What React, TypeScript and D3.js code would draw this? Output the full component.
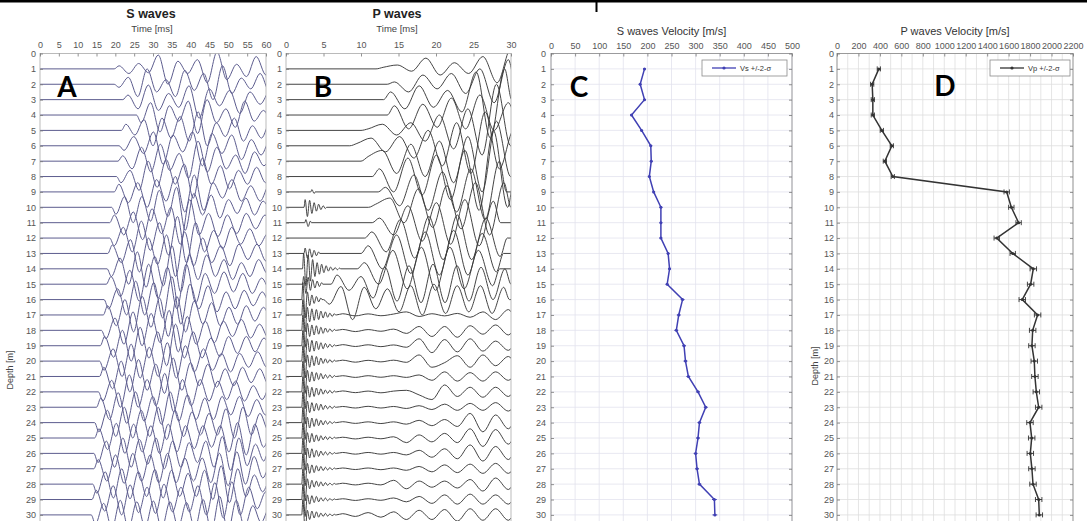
import React, { useEffect, useRef } from 'react';
import * as d3 from 'd3';

// depth levels (m) and axis ticks
const depths = [1,2,3,4,5,6,7,8,9,10,11,12,13,14,15,16,17,18,19,20,21,22,23,24,25,26,27,28,29,30];
const depthTicks = [0,1,2,3,4,5,6,7,8,9,10,11,12,13,14,15,16,17,18,19,20,21,22,23,24,25,26,27,28,29,30];
const gridDepths = [0,1,2,3,4,5,6,7,8,9,10,11,12,13,14,15,16,17,18,19,20,21,22,23,24,25,26,27,28,29,30,31];
const sTimeTicks = [0,5,10,15,20,25,30,35,40,45,50,55,60];
const pTimeTicks = [0,5,10,15,20,25,30];
const vsTicks = [0,50,100,150,200,250,300,350,400,450,500];
const vpTicks = [0,200,400,600,800,1000,1200,1400,1600,1800,2000,2200];

const vsValues = [194,185,194,167,188,207,208,204,213,228,228,228,243,246,241,273,265,260,276,279,285,305,321,308,305,300,303,308,339,340];
const vsSigma = [3,3,3,3,3,3,3,3,3,3,3,3,3,3,3,4,4,4,4,4,4,4,4,4,4,4,4,4,5,5];
const vpValues = [390,328,334,334,418,511,446,520,1582,1625,1693,1489,1638,1830,1805,1727,1870,1824,1817,1839,1845,1858,1880,1799,1815,1802,1817,1827,1880,1886];
const vpSigma = [15,15,15,15,15,15,15,15,25,25,25,25,25,30,30,30,30,30,30,30,30,30,30,30,30,30,30,30,30,30];

// S-wave traces: onset (ms), half period (ms), extrema in trace-spacing units
const sOnset = [19.7,19.7,22.0,25.6,21.6,21.0,20.7,20.3,19.7,19.0,18.5,18.5,18.0,17.8,17.6,17.0,16.8,16.3,16.0,15.8,15.8,15.5,15.0,14.5,14.5,14.3,14.3,14.0,13.8,13.6];
const sHalf = [2.6,2.5,2.7,2.5,2.4,2.6,2.5,2.4,2.5,2.3,2.5,2.4,2.4,2.3,2.5,2.4,2.3,2.4,2.35,2.4,2.3,2.35,2.3,2.25,2.3,2.2,2.3,2.2,2.25,2.2];
const sAmps = [
  [0.2,-0.3,0.35,-0.25,0.9,-1.0,0.5,-0.3,0.6,-0.9,1.1,-0.7,0.3,-0.5,0.8,-0.4,0.3,-0.5,0.4],
  [-0.2,0.45,-0.8,1.0,-0.5,0.3,-0.8,0.9,-0.4,0.7,-1.0,1.2,-0.6,0.4,-0.3,0.7,-0.5,0.3],
  [0.3,-0.6,0.95,-0.7,0.4,-0.5,0.9,-1.2,0.7,-0.4,0.6,-0.9,0.5,-0.3,0.6,-0.5,0.4],
  [-0.5,0.8,-1.1,0.6,-0.4,0.9,-1.2,1.0,-0.5,0.4,-0.8,0.9,-0.4,0.3,-0.6,0.5],
  [0.4,-0.3,0.7,-1.0,0.8,-0.5,0.9,-0.7,1.2,-1.0,0.5,-0.4,0.8,-0.7,0.3,-0.5,0.6,-0.4],
  [-0.3,0.6,-0.5,0.9,-1.2,0.7,-0.4,0.9,-1.3,0.8,-0.5,0.7,-0.9,0.4,-0.6,0.5,-0.3,0.5],
  [0.35,-0.5,0.9,-0.7,1.1,-0.6,0.5,-1.1,1.3,-0.7,0.9,-0.5,0.4,-0.8,0.6,-0.3,0.5,-0.5],
  [-0.4,0.4,-0.9,1.0,-0.7,1.1,-0.5,0.8,-1.4,1.2,-0.5,0.7,-0.8,0.4,-0.5,0.6,-0.4,0.3],
  [0.5,-0.7,0.6,-1.0,0.8,-0.6,1.0,-1.3,1.1,-1.2,0.6,-0.4,0.8,-0.6,0.4,-0.6,0.5,-0.3,0.4],
  [-0.45,0.7,-1.0,0.7,-0.9,1.1,-0.6,1.3,-1.5,0.9,-0.5,0.8,-0.7,0.5,-0.4,0.6,-0.5,0.4,-0.3],
  [0.5,-0.8,0.7,-1.1,0.9,-0.7,1.0,-1.4,1.5,-0.8,0.6,-0.9,0.5,-0.7,0.6,-0.4,0.5,-0.5,0.3],
  [-0.5,0.7,-0.9,1.1,-0.8,1.0,-1.1,1.4,-1.6,1.0,-0.9,0.5,-0.7,0.7,-0.4,0.6,-0.5,0.3,-0.4],
  [0.55,-0.6,0.9,-1.2,1.0,-0.7,1.2,-1.5,1.4,-0.8,1.0,-0.6,0.5,-0.8,0.6,-0.4,0.6,-0.5,0.4,-0.3],
  [-0.5,0.7,-1.0,1.1,-1.2,0.8,-1.1,1.5,-1.5,0.9,-0.7,0.9,-0.5,0.6,-0.7,0.4,-0.5,0.6,-0.3,0.4],
  [0.5,-0.8,0.9,-1.1,1.3,-0.9,1.1,-1.6,1.3,-1.2,0.7,-0.6,0.8,-0.5,0.7,-0.6,0.4,-0.5,0.5,-0.3],
  [-0.6,0.7,-1.0,1.2,-1.0,1.1,-1.2,1.5,-1.6,1.0,-0.6,0.9,-0.8,0.5,-0.6,0.6,-0.4,0.5,-0.4,0.3],
  [0.6,-0.7,1.0,-1.1,1.2,-0.8,1.1,-1.4,1.2,-1.1,0.9,-0.6,0.8,-0.7,0.5,-0.6,0.6,-0.4,0.5,-0.4],
  [-0.55,0.8,-0.9,1.2,-1.0,1.1,-0.8,1.3,-1.4,0.9,-0.9,0.6,-0.8,0.6,-0.4,0.7,-0.5,0.4,-0.5,0.4],
  [0.6,-0.75,1.0,-1.0,1.2,-0.8,0.9,-1.3,1.4,-0.8,0.9,-0.8,0.5,-0.7,0.6,-0.5,0.6,-0.4,0.5,-0.3],
  [-0.6,0.8,-1.0,1.1,-1.1,0.9,-1.0,1.2,-1.1,1.0,-0.7,0.8,-0.6,0.5,-0.7,0.5,-0.4,0.6,-0.4,0.4],
  [0.6,-0.8,1.0,-1.0,1.1,-0.9,0.8,-1.1,1.2,-0.9,0.9,-0.6,0.8,-0.7,0.5,-0.6,0.6,-0.4,0.5,-0.5],
  [-0.6,0.75,-1.0,1.1,-1.0,0.8,-0.9,1.2,-1.3,0.8,-0.9,0.8,-0.6,0.7,-0.5,0.7,-0.6,0.4,-0.5,0.5,-0.4],
  [0.6,-0.8,0.95,-1.05,1.0,-0.9,0.7,-1.1,1.0,-0.9,0.8,-0.8,0.6,-0.8,0.7,-0.5,0.7,-0.6,0.5,-0.5,0.4],
  [-0.6,0.8,-0.9,1.0,-1.0,0.8,-0.9,1.0,-1.1,0.8,-0.9,0.7,-0.8,0.6,-0.8,0.9,-1.0,1.0,-0.8,0.6,-0.5],
  [0.6,-0.75,0.95,-1.0,0.9,-0.9,0.8,-1.0,0.9,-0.9,0.8,-0.7,0.8,-0.6,0.8,-0.9,1.0,-1.1,0.9,-0.6,0.5],
  [-0.6,0.8,-0.9,1.0,-0.9,0.9,-0.7,1.0,-1.0,0.8,-0.9,0.7,-0.6,0.8,-0.9,1.1,-1.1,1.0,-0.8,0.6,-0.5],
  [0.6,-0.8,0.9,-0.95,1.0,-0.8,0.9,-0.9,1.0,-0.9,0.7,-0.8,0.7,-0.9,1.0,-1.1,1.1,-1.0,0.8,-0.6,0.5],
  [-0.6,0.8,-0.9,1.0,-0.95,0.8,-0.8,0.95,-0.9,0.9,-0.8,0.7,-0.8,0.9,-1.0,1.2,-1.2,1.0,-0.8,0.6,-0.5,0.4],
  [0.6,-0.75,0.9,-1.0,0.95,-0.85,0.8,-0.9,1.0,-0.8,0.8,-0.8,0.9,-1.0,1.1,-1.2,1.15,-1.0,0.8,-0.6,0.5,-0.4],
  [-0.6,0.75,-0.9,0.95,-0.9,0.85,-0.8,0.9,-0.9,0.85,-0.8,0.8,-0.9,1.0,-1.1,1.2,-1.1,0.95,-0.8,0.6,-0.5,0.45]
];

// P-wave traces: early burst (start ms, extrema at 0.3 ms half period) then main wave train
const pBurstStart = [null,null,null,null,null,null,null,null,3.3,2.4,2.5,null,2.4,2.2,2.2,2.1,2.1,2.1,2.1,2.1,2.1,2.1,2.1,2.1,2.1,2.1,2.1,2.1,2.1,2.1];
const pBurstAmps = [
  [],[],[],[],[],[],[],[],
  [0.15,-0.1],
  [0.5,-0.6,0.45,-0.4,0.3,-0.25,0.2,-0.15,0.1,-0.08],
  [0.2,-0.25,0.1],
  [],
  [0.35,-0.3,0.3,-0.25,0.2,-0.15,0.1],
  [1.0,-1.1,0.9,-0.8,0.6,-0.5,0.4,-0.35,0.3,-0.25,0.2,-0.15,0.12,-0.1,0.08,-0.06,0.05],
  [0.5,-0.6,0.45,-0.4,0.3,-0.25,0.2,-0.15,0.1],
  [1.1,-1.2,0.5,-0.4,0.3,-0.25,0.2,-0.15,0.1],
  [1.0,-1.1,0.5,-0.45,0.4,-0.35,0.35,-0.3,0.25,-0.2,0.2,-0.15,0.12,-0.1,0.08],
  [1.0,-1.1,0.45,-0.4,0.35,-0.3,0.3,-0.25,0.2,-0.2,0.15,-0.12,0.1,-0.08,0.06],
  [1.0,-1.1,0.45,-0.4,0.35,-0.35,0.3,-0.25,0.2,-0.2,0.15,-0.12,0.1,-0.08,0.06],
  [1.0,-1.1,0.4,-0.4,0.35,-0.3,0.3,-0.25,0.2,-0.15,0.15,-0.12,0.1,-0.08,0.06],
  [1.0,-1.1,0.4,-0.35,0.3,-0.3,0.25,-0.2,0.2,-0.15,0.12,-0.1,0.1,-0.08,0.06],
  [1.0,-1.1,0.4,-0.35,0.3,-0.3,0.25,-0.2,0.2,-0.15,0.12,-0.1,0.1,-0.08,0.06],
  [1.0,-1.1,0.4,-0.35,0.3,-0.25,0.25,-0.2,0.2,-0.15,0.12,-0.1,0.08,-0.08,0.06],
  [1.0,-1.1,0.35,-0.35,0.3,-0.25,0.25,-0.2,0.15,-0.15,0.12,-0.1,0.08,-0.06,0.05],
  [1.0,-1.1,0.35,-0.3,0.3,-0.25,0.2,-0.2,0.15,-0.12,0.1,-0.1,0.08,-0.06,0.05],
  [1.0,-1.1,0.35,-0.3,0.3,-0.25,0.2,-0.2,0.15,-0.12,0.1,-0.1,0.08,-0.06,0.05],
  [1.0,-1.1,0.35,-0.3,0.25,-0.25,0.2,-0.15,0.15,-0.12,0.1,-0.08,0.08,-0.06,0.05],
  [1.0,-1.1,0.35,-0.3,0.25,-0.2,0.2,-0.15,0.15,-0.12,0.1,-0.08,0.06,-0.05,0.05],
  [1.0,-1.1,0.3,-0.3,0.25,-0.2,0.2,-0.15,0.12,-0.1,0.1,-0.08,0.06,-0.05,0.04],
  [1.0,-1.1,0.3,-0.3,0.25,-0.2,0.2,-0.15,0.12,-0.1,0.1,-0.08,0.06,-0.05,0.04]
];
const pOnset = [12.0,13.5,13.0,13.5,10.0,8.5,10.0,11.5,12.3,11.0,11.5,10.5,10.0,9.5,6.0,5.0,6.7,6.7,6.7,6.7,6.7,6.7,6.7,6.7,6.7,6.7,6.7,6.7,6.7,6.7];
const pHalf = [1.9,1.9,1.9,1.9,1.9,1.9,1.9,1.9,1.9,1.9,1.9,1.9,1.9,1.9,1.6,1.55,1.7,1.7,1.7,1.7,1.7,1.7,1.7,1.7,1.7,1.7,1.7,1.7,1.7,1.7];
const pAmps = [
  [0.1,0.25,-0.15,0.7,-0.4,0.4,-0.3,0.8,-0.9,1.4],
  [0.15,-0.5,0.6,-0.3,0.7,-0.6,1.0,-1.2,1.6],
  [0.5,-0.6,0.9,-0.5,0.6,-0.8,1.8,-2.5,2.0],
  [0.6,-0.9,0.7,-0.8,1.1,-0.9,1.3,-1.0,0.8],
  [0.1,0.4,-0.3,0.5,-0.7,1.0,-1.2,1.4,-1.6,3.0,-1.0],
  [0.15,0.5,-0.4,0.6,-0.8,1.0,-1.3,1.5,-1.8,2.2,-1.5,1.0],
  [0.3,0.7,-0.8,1.1,-1.0,1.3,-1.4,1.6,-2.0,2.6,-1.0],
  [0.5,-1.0,1.2,-1.2,1.4,-1.5,1.7,-2.2,3.0,-2.0],
  [0.3,-0.9,1.1,-1.2,1.3,-1.3,1.5,-1.8,2.0],
  [0.2,0.6,-1.0,1.2,-1.3,1.4,-1.4,1.6,-1.8,1.6],
  [0.3,-0.8,1.1,-1.2,1.3,-1.4,1.5,-1.5,1.4],
  [0.4,-0.9,1.2,-1.3,1.4,-1.4,1.5,-1.4,1.3,-1.2],
  [0.5,-1.0,1.2,-1.3,1.4,-1.4,1.5,-1.4,1.3,-1.2],
  [0.4,-1.0,1.2,-1.3,1.4,-1.4,1.4,-1.3,1.2,-1.1],
  [0.6,-0.4,0.5,-0.9,1.1,-1.1,1.2,-1.2,1.3,-1.2,1.2,-1.1,1.1,-1.0,1.0],
  [-0.3,0.85,-1.3,0.8,-0.6,0.7,-0.8,0.9,-1.0,1.0,-0.9,0.9,-0.8,0.9,-0.9,0.8],
  [0.08,-0.06,0.07,-0.05,0.06,0.2,-0.1,0.08,-0.06,0.1,-0.15,0.2,-0.3,0.35],
  [0.06,-0.08,0.05,-0.06,0.08,-0.2,0.25,-0.4,0.25,-0.45,0.3,-0.25,0.35,-0.3],
  [0.07,-0.05,0.06,-0.06,0.05,-0.1,0.45,-0.45,0.4,-0.4,0.45,-0.35,0.3,-0.3],
  [0.06,-0.07,0.05,-0.05,0.06,-0.08,0.4,-0.4,-0.1,0.35,-0.4,0.4,-0.3,0.3],
  [0.05,-0.06,0.05,-0.05,0.05,-0.06,0.1,-0.25,0.3,-0.3,0.25,-0.3,0.3,-0.25],
  [0.06,-0.05,0.05,-0.06,0.05,0.1,-0.2,-0.5,0.45,-0.3,0.3,-0.35,0.3,-0.3],
  [0.05,-0.05,0.06,-0.05,0.05,-0.08,0.1,-0.15,0.2,-0.2,0.25,-0.2,0.3,-0.25],
  [0.06,-0.05,0.05,-0.06,0.05,-0.1,0.15,-0.2,0.2,-0.25,0.6,-0.6,0.5,-0.4],
  [0.05,-0.06,0.05,-0.05,0.08,-0.3,0.2,-0.25,0.3,-0.3,0.6,-0.55,0.55,-0.4],
  [0.06,-0.05,0.06,-0.05,0.06,-0.1,0.2,-0.25,0.3,-0.35,0.55,-0.5,0.45,-0.4],
  [0.05,-0.05,0.05,-0.06,0.05,-0.1,0.15,-0.2,0.25,-0.25,0.3,-0.3,0.35,-0.3],
  [0.06,-0.05,0.06,-0.05,0.25,-0.3,0.2,-0.2,0.2,-0.25,0.3,-0.45,0.4,-0.35],
  [0.05,-0.06,0.05,-0.05,0.1,-0.15,0.2,-0.25,0.3,-0.3,0.35,-0.3,0.3,-0.3],
  [0.08,-0.1,0.15,-0.15,0.2,-0.3,0.3,-0.3,0.35,-0.4,0.4,-0.35,0.4,-0.35]
];

const TOP = 53.5;
const SPACING = 15.38;
const FONT = '"Liberation Sans", Arial, sans-serif';

type Seg = { t0: number; half: number; amps: number[] };

function tracePoints(segs: Seg[], tEnd: number) {
  const pts: [number, number][] = [[0, 0]];
  const push = (t: number, a: number) => {
    if (t > pts[pts.length - 1][0]) pts.push([t, a]);
  };
  segs.forEach(s => {
    push(s.t0, 0);
    s.amps.forEach((a, k) => push(s.t0 + (k + 0.5) * s.half, a));
    push(s.t0 + s.amps.length * s.half, 0);
  });
  push(tEnd + 3, 0);
  return pts;
}

export default function App () {
  const ref = useRef<SVGSVGElement>(null);

  useEffect(() => {
    const svg = d3.select(ref.current);
    svg.selectAll('*').remove();

    const y = d3.scaleLinear().domain([0, 31.5]).range([TOP, TOP + 31.5 * SPACING]);
    const bottom = y(31.5);

    // top border of the surrounding table
    svg.append('rect').attr('x', 0).attr('y', 0).attr('width', 1087).attr('height', 2.5).attr('fill', '#000');
    svg.append('rect').attr('x', 595.5).attr('y', 0).attr('width', 2).attr('height', 12).attr('fill', '#000');

    const styleAxis = (g: any, size: number) => {
      g.select('.domain').remove();
      g.selectAll('.tick line').attr('stroke', '#777').attr('stroke-width', 0.8);
      g.selectAll('.tick text').attr('fill', '#555').style('font-family', FONT).style('font-size', size + 'px');
    };

    const text = (x: number, yy: number, s: string, size: number, opts: any = {}) =>
      svg.append('text')
        .attr('x', x).attr('y', yy)
        .attr('text-anchor', opts.anchor || 'middle')
        .attr('fill', opts.fill || '#333')
        .attr('font-weight', opts.bold ? 700 : 400)
        .attr('transform', opts.rotate ? `rotate(-90,${x},${yy})` : null)
        .style('font-family', opts.family || FONT)
        .style('font-size', size + 'px')
        .text(s);

    // ---------- seismogram panels ----------
    const wavePanel = (
      id: string, x0: number, x1: number, tMax: number, ticks: number[],
      traces: Seg[][], color: string, lw: number
    ) => {
      const x = d3.scaleLinear().domain([0, tMax]).range([x0, x1]);
      svg.append('clipPath').attr('id', id)
        .append('rect').attr('x', x0).attr('y', TOP).attr('width', x1 - x0).attr('height', bottom - TOP);

      const line = d3.line<[number, number]>()
        .x(d => x(d[0]))
        .y(d => d[1])
        .curve(d3.curveMonotoneX);

      const g = svg.append('g').attr('clip-path', `url(#${id})`);
      g.selectAll('path')
        .data(traces)
        .enter()
        .append('path')
        .attr('d', (segs, i) => {
          const base = y(depths[i]);
          const pts = tracePoints(segs, tMax).map(p => [p[0], base - p[1] * SPACING] as [number, number]);
          return line(pts);
        })
        .attr('fill', 'none')
        .attr('stroke', color)
        .attr('stroke-width', lw)
        .attr('stroke-linejoin', 'round');

      svg.append('rect')
        .attr('x', x0).attr('y', TOP).attr('width', x1 - x0).attr('height', bottom - TOP)
        .attr('fill', 'none').attr('stroke', '#aaa').attr('stroke-width', 0.8);

      const top = svg.append('g').attr('transform', `translate(0,${TOP})`)
        .call(d3.axisTop(x).tickValues(ticks).tickSize(-3).tickPadding(6).tickFormat(d3.format('d')));
      styleAxis(top, 9);
      const left = svg.append('g').attr('transform', `translate(${x0},0)`)
        .call(d3.axisLeft(y).tickValues(depthTicks).tickSize(-3).tickPadding(4).tickFormat(d3.format('d')));
      styleAxis(left, 9);
    };

    const sTraces: Seg[][] = depths.map((d, i) => [{ t0: sOnset[i], half: sHalf[i], amps: sAmps[i] }]);
    const pTraces: Seg[][] = depths.map((d, i) => {
      const segs: Seg[] = [];
      const b = pBurstStart[i];
      if (b !== null) segs.push({ t0: b, half: 0.3, amps: pBurstAmps[i] });
      segs.push({ t0: pOnset[i], half: pHalf[i], amps: pAmps[i] });
      return segs;
    });

    wavePanel('clipA', 40, 266, 60, sTimeTicks, sTraces, '#5c5c8e', 1);
    wavePanel('clipB', 286, 511, 30, pTimeTicks, pTraces, '#3a3a3a', 0.95);

    text(151, 18, 'S waves', 12.5, { bold: true, fill: '#222' });
    text(152, 32, 'Time [ms]', 9.5, { fill: '#444' });
    text(397, 18, 'P waves', 12.5, { bold: true, fill: '#222' });
    text(397, 32, 'Time [ms]', 9.5, { fill: '#444' });
    text(13, 370, 'Depth [m]', 9, { rotate: true, fill: '#444' });

    // ---------- velocity panels ----------
    const velPanel = (
      x0: number, x1: number, vMax: number, ticks: number[], gridStep: number,
      values: number[], sigma: number[], color: string, gridColor: string,
      title: string, legendLabel: string, legendX: number, legendW: number, cross: boolean,
      labelPad: number
    ) => {
      const x = d3.scaleLinear().domain([0, vMax]).range([x0, x1]);
      const gridVals = d3.range(0, vMax + 1, gridStep);
      svg.append('g').selectAll('line').data(gridVals).enter().append('line')
        .attr('x1', d => x(d)).attr('x2', d => x(d)).attr('y1', TOP).attr('y2', bottom)
        .attr('stroke', gridColor).attr('stroke-width', 0.8);
      svg.append('g').selectAll('line').data(gridDepths).enter().append('line')
        .attr('x1', x0).attr('x2', x1).attr('y1', d => y(d)).attr('y2', d => y(d))
        .attr('stroke', gridColor).attr('stroke-width', 0.8);

      svg.append('rect')
        .attr('x', x0).attr('y', TOP).attr('width', x1 - x0).attr('height', bottom - TOP)
        .attr('fill', 'none').attr('stroke', '#888').attr('stroke-width', 0.8);

      const top = svg.append('g').attr('transform', `translate(0,${TOP})`)
        .call(d3.axisTop(x).tickValues(ticks).tickSize(-3).tickPadding(5).tickFormat(d3.format('d')));
      styleAxis(top, 9);
      const left = svg.append('g').attr('transform', `translate(${x0},0)`)
        .call(d3.axisLeft(y).tickValues(depthTicks).tickSize(-3).tickPadding(labelPad).tickFormat(d3.format('d')));
      styleAxis(left, 9);
      const right = svg.append('g').attr('transform', `translate(${x1},0)`)
        .call(d3.axisRight(y).tickValues(depthTicks).tickSize(-3).tickFormat(() => ''));
      styleAxis(right, 9);

      const line = d3.line<number>()
        .x(d => x(d))
        .y((d, i) => y(depths[i]));
      svg.append('path')
        .attr('d', line(values))
        .attr('fill', 'none').attr('stroke', color).attr('stroke-width', 1.5);

      const bars = svg.append('g').selectAll('g').data(values).enter().append('g');
      bars.append('line')
        .attr('x1', (d, i) => x(d - sigma[i])).attr('x2', (d, i) => x(d + sigma[i]))
        .attr('y1', (d, i) => y(depths[i])).attr('y2', (d, i) => y(depths[i]))
        .attr('stroke', color).attr('stroke-width', 1);
      if (cross) {
        [-1, 1].forEach(s => {
          bars.append('line')
            .attr('x1', (d, i) => x(d + s * sigma[i])).attr('x2', (d, i) => x(d + s * sigma[i]))
            .attr('y1', (d, i) => y(depths[i]) - 2.5).attr('y2', (d, i) => y(depths[i]) + 2.5)
            .attr('stroke', color).attr('stroke-width', 0.9);
        });
      }
      bars.append('circle')
        .attr('cx', d => x(d)).attr('cy', (d, i) => y(depths[i])).attr('r', 1.5)
        .attr('fill', color);

      text((x0 + x1) / 2, 35, title, 11, { fill: '#333' });

      // legend
      svg.append('rect').attr('x', legendX).attr('y', 60).attr('width', legendW).attr('height', 16)
        .attr('fill', '#fff').attr('stroke', '#8a8a8a').attr('stroke-width', 0.8);
      svg.append('line').attr('x1', legendX + 10).attr('x2', legendX + 34).attr('y1', 68).attr('y2', 68)
        .attr('stroke', color).attr('stroke-width', 1.3);
      svg.append('circle').attr('cx', legendX + 22).attr('cy', 68).attr('r', 1.6).attr('fill', color);
      text(legendX + 38, 71, legendLabel, 7.5, { anchor: 'start', fill: '#333' });
    };

    velPanel(551, 792, 500, vsTicks, 50, vsValues, vsSigma, '#4040b4', '#e2e2ee',
      'S waves Velocity [m/s]', 'Vs +/-2-σ', 702, 85, false, 5);
    velPanel(837, 1073, 2200, vpTicks, 100, vpValues, vpSigma, '#333333', '#dedede',
      'P waves Velocity [m/s]', 'Vp +/-2-σ', 990, 80, true, 3);
    text(818, 366, 'Depth [m]', 9, { rotate: true, fill: '#444' });

    // panel letters
    const LETTER = 'Lato, "Open Sans", sans-serif';
    text(67, 97, 'A', 28, { bold: true, fill: '#000', family: LETTER });
    text(323, 97, 'B', 28, { bold: true, fill: '#000', family: LETTER });
    text(579, 97, 'C', 28, { bold: true, fill: '#000', family: LETTER });
    text(945, 96, 'D', 28, { bold: true, fill: '#000', family: LETTER });
  }, []);

  return (
    <svg
      ref={ref}
      width={1087}
      height={521}
      style={{ position: 'absolute', left: 0, top: 0, background: '#fff' }}
    />
  );
}
